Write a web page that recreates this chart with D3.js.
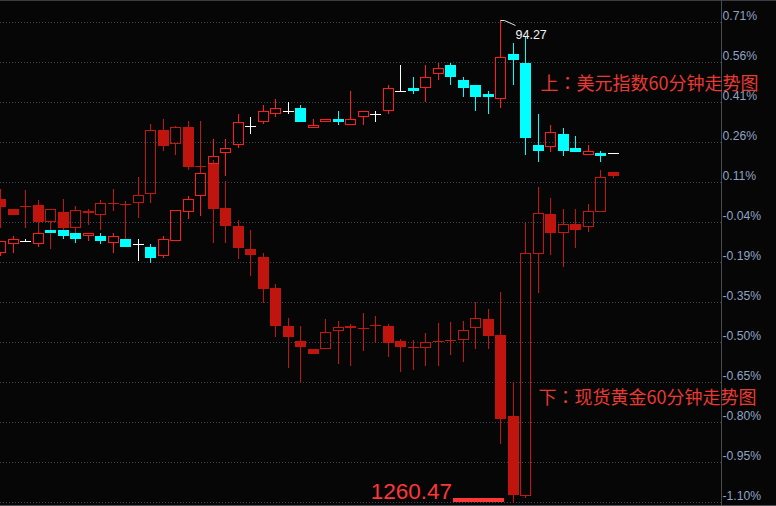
<!DOCTYPE html>
<html><head><meta charset="utf-8">
<script src="https://cdn.jsdelivr.net/npm/d3@7"></script>
<style>
html,body{margin:0;padding:0;background:#060606;}
svg{display:block;}
</style></head><body>
<svg id="chart" width="776" height="506"></svg>
<script>
// ---------- data (percent change) ----------
// each candle: [open, high, low, close]
const usdCandles = [
[-0.161,-0.115,-0.170,-0.115],[-0.125,-0.096,-0.159,-0.107],[-0.115,-0.106,-0.116,-0.115],
[-0.125,-0.084,-0.136,-0.084],[-0.073,-0.073,-0.084,-0.084],[-0.073,-0.073,-0.106,-0.095],
[-0.084,-0.084,-0.121,-0.106],[-0.095,-0.085,-0.115,-0.085],[-0.096,-0.085,-0.125,-0.113],
[-0.123,-0.084,-0.159,-0.096],[-0.107,-0.107,-0.136,-0.136],[-0.127,-0.107,-0.189,-0.127],
[-0.136,-0.126,-0.199,-0.178],[-0.170,-0.096,-0.178,-0.108],[-0.113,0.001,-0.115,0.001],
[-0.007,0.054,-0.031,0.043],[0.056,0.142,-0.019,0.142],[0.176,0.270,0.176,0.206],
[0.219,0.270,0.132,0.235],[0.249,0.364,0.238,0.333],[0.319,0.353,0.289,0.319],
[0.335,0.398,0.326,0.376],[0.365,0.421,0.354,0.386],[0.374,0.410,0.365,0.374],
[0.387,0.397,0.335,0.335],[0.313,0.345,0.313,0.322],[0.335,0.345,0.335,0.345],
[0.345,0.376,0.323,0.335],[0.324,0.451,0.324,0.345],[0.354,0.374,0.324,0.374],
[0.364,0.376,0.335,0.364],[0.377,0.474,0.365,0.461],[0.451,0.549,0.451,0.451],
[0.462,0.504,0.441,0.452],[0.463,0.549,0.410,0.503],[0.516,0.558,0.493,0.538],
[0.549,0.558,0.474,0.505],[0.493,0.504,0.430,0.463],[0.474,0.474,0.377,0.430],
[0.440,0.451,0.365,0.430],[0.422,0.718,0.388,0.578],[0.591,0.633,0.475,0.568],
[0.557,0.656,0.209,0.273],[0.247,0.364,0.185,0.226],[0.240,0.323,0.220,0.298],
[0.288,0.310,0.207,0.226],[0.236,0.281,0.220,0.220],[0.209,0.246,0.209,0.224],
[0.217,0.226,0.185,0.207],[0.216,0.216,0.216,0.216]
];
const goldCandles = [
[0.044,0.082,-0.064,0.015],[0.006,0.006,-0.015,-0.015],[0.017,0.078,-0.064,0.017],
[0.021,0.040,-0.084,-0.042],[-0.042,0.005,-0.145,0.005],[-0.005,0.044,-0.073,-0.064],
[-0.064,0.017,-0.084,0.002],[-0.001,0.006,-0.056,-0.008],[-0.015,0.040,-0.073,0.029],
[0.028,0.082,-0.001,0.028],[0.024,0.036,-0.107,0.024],[0.027,0.127,-0.027,0.058],
[0.062,0.327,0.030,0.303],[0.303,0.345,0.226,0.245],[0.252,0.319,0.211,0.314],
[0.314,0.338,0.153,0.166],[0.169,0.338,0.142,0.169],[0.176,0.191,-0.121,0.007],
[0.011,0.113,-0.121,-0.057],[-0.057,-0.035,-0.181,-0.140],[-0.145,-0.073,-0.245,-0.167],
[-0.175,-0.161,-0.347,-0.294],[-0.292,-0.277,-0.475,-0.434],[-0.435,-0.405,-0.592,-0.475],
[-0.492,-0.435,-0.645,-0.513],[-0.522,-0.522,-0.540,-0.540],[-0.523,-0.409,-0.523,-0.458],
[-0.455,-0.416,-0.577,-0.440],[-0.435,-0.428,-0.585,-0.443],[-0.444,-0.386,-0.528,-0.444],
[-0.433,-0.397,-0.498,-0.433],[-0.435,-0.428,-0.551,-0.498],[-0.492,-0.484,-0.607,-0.515],
[-0.515,-0.488,-0.600,-0.515],[-0.519,-0.463,-0.585,-0.497],[-0.492,-0.424,-0.585,-0.492],
[-0.489,-0.420,-0.543,-0.489],[-0.489,-0.416,-0.570,-0.451],[-0.444,-0.345,-0.521,-0.406],
[-0.410,-0.372,-0.521,-0.472],[-0.469,-0.307,-0.881,-0.786],[-0.774,-0.646,-1.104,-1.072],
[-1.075,-0.046,-1.085,-0.161],[-0.164,0.088,-0.310,-0.010],[-0.014,0.046,-0.166,-0.085],
[-0.085,0.005,-0.214,-0.052],[-0.050,0.005,-0.142,-0.073],[-0.063,0.024,-0.080,-0.003],
[-0.006,0.152,-0.006,0.126],[0.146,0.146,0.124,0.132]
];
const tickValues = [0.71,0.559,0.408,0.258,0.107,-0.044,-0.195,-0.346,-0.497,-0.648,-0.798,-0.949,-1.10];
const tickLabels = ["0.71%","0.56%","0.41%","0.26%","0.11%","-0.04%","-0.19%","-0.35%","-0.50%","-0.65%","-0.80%","-0.95%","-1.10%"];
const usdTitle = ["上", "：", "美元指数60分钟走势图"];
const goldTitle = ["下", "：", "现货黄金60分钟走势图"];
const usdHighLabel = "94.27";
const goldLowLabel = "1260.47";

// ---------- scales ----------
const W = 776, H = 506, axisX = 721;
const svg = d3.select("#chart");
svg.append("rect").attr("width",W).attr("height",H).attr("fill","#060606");
const x = d3.scaleLinear().domain([0, usdCandles.length-1]).range([0.8, 613.3]);
const y = d3.scaleLinear().domain([0.71, -1.10]).range([22.33, 502.33]);

// borders
svg.append("line").attr("x1",0).attr("x2",W).attr("y1",0.5).attr("y2",0.5).attr("stroke","#3a3c42");
svg.append("line").attr("x1",0).attr("x2",W).attr("y1",505.5).attr("y2",505.5).attr("stroke","#4e5258");

// grid
const grid = svg.append("g");
tickValues.forEach(v=>{
  const gy = Math.floor(y(v))+0.5;
  grid.append("line").attr("x1",0).attr("x2",axisX).attr("y1",gy).attr("y2",gy)
    .attr("stroke","#41444c").attr("stroke-dasharray","1,2");
});

// axis
svg.append("line").attr("x1",axisX+0.5).attr("x2",axisX+0.5).attr("y1",0).attr("y2",505)
  .attr("stroke","#4a4b50");
const axisG = svg.append("g");
tickValues.forEach((v,k)=>{
  axisG.append("text").attr("x",axisX+1.5).attr("y",Math.floor(y(v))-2)
    .attr("font-family","'Liberation Sans',Arial,sans-serif").attr("font-size",12.2)
    .attr("fill","#8fa3c4").text(tickLabels[k]);
});

function drawCandles(data, col, hollowUp){
  const g = svg.append("g").attr("shape-rendering","crispEdges");
  data.forEach((d,i)=>{
    const [o,h,l,c] = d;
    const px = Math.floor(x(i)), cx = px+0.5;
    const yTop = Math.round(y(Math.max(o,c))), yBot = Math.round(y(Math.min(o,c)));
    const yH = Math.round(y(h)), yL = Math.round(y(l));
    const color = c>o ? col.up : (c<o ? col.down : col.flat);
    if (yH < yTop) g.append("line").attr("x1",cx).attr("x2",cx).attr("y1",yH).attr("y2",yTop).attr("stroke",color);
    if (yL > yBot) g.append("line").attr("x1",cx).attr("x2",cx).attr("y1",yBot).attr("y2",yL).attr("stroke",color);
    if (c>o && hollowUp) {
      g.append("rect").attr("x",px-4.5).attr("y",yTop+0.5).attr("width",10)
        .attr("height",Math.max(yBot-yTop-1,0)).attr("fill","none").attr("stroke",color);
    } else if (c!==o) {
      g.append("rect").attr("x",px-5).attr("y",yTop).attr("width",11)
        .attr("height",Math.max(yBot-yTop,1)).attr("fill",color);
    } else {
      g.append("line").attr("x1",px-5).attr("x2",px+6).attr("y1",yTop+0.5).attr("y2",yTop+0.5).attr("stroke",color);
    }
  });
}
drawCandles(goldCandles, {up:"#c4170f", down:"#c0150e", flat:"#c4170f"}, true);
drawCandles(usdCandles, {up:"#ff1c1c", down:"#00ffff", flat:"#ffffff"}, true);

// high label for USD
const hiIdx = d3.maxIndex(usdCandles, d=>d[1]);
const hx = Math.floor(x(hiIdx))+0.5, hy = Math.round(y(usdCandles[hiIdx][1]))+0.5;
svg.append("polyline").attr("points",`${hx},${hy} ${hx+4},${hy} ${hx+15},${hy+5}`)
  .attr("fill","none").attr("stroke","#e0e0e0").attr("stroke-width",1);
svg.append("text").attr("x",hx+15).attr("y",hy+18)
  .attr("font-family","'Liberation Sans',Arial,sans-serif").attr("font-size",12.5)
  .attr("fill","#f2f2f2").text(usdHighLabel);

// low label for gold
const loIdx = d3.minIndex(goldCandles, d=>d[2]);
const lx = Math.floor(x(loIdx)), ly = y(goldCandles[loIdx][2]);
svg.append("rect").attr("x",lx-60).attr("y",Math.round(ly)-5).attr("width",51).attr("height",4).attr("fill","#ff3636");
svg.append("text").attr("x",lx-61).attr("y",ly-4.6).attr("text-anchor","end")
  .attr("font-family","'Liberation Sans',Arial,sans-serif").attr("font-size",22.5)
  .attr("fill","#ff3636").text(goldLowLabel);

// titles (full-width colon centred, as in the reference)
function title(parts, tx, ty){
  const t = svg.append("text").attr("x",tx).attr("y",ty)
    .attr("font-family","'Noto Sans CJK SC',sans-serif").attr("font-size",18).attr("fill","#e63a33");
  t.append("tspan").text(parts[0]);
  t.append("tspan").attr("font-family","'Noto Sans CJK TC','Noto Sans CJK JP',sans-serif").text(parts[1]);
  t.append("tspan").text(parts[2]);
}
title(usdTitle, 540.5, 89.5);
title(goldTitle, 538.5, 403.5);
</script>
</body></html>
